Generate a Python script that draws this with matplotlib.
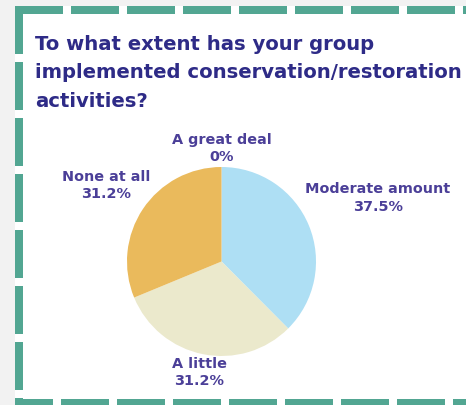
import numpy as np
import matplotlib.pyplot as plt
from matplotlib.patches import Rectangle

W, H = 466, 406

# answers, in drawing order (clockwise from 12 o'clock)
categories = ['Moderate amount', 'A little', 'None at all', 'A great deal']
shares = [37.5, 31.2, 31.2, 0.0]
pct_labels = ['37.5%', '31.2%', '31.2%', '0%']
colors = ['#aedff4', '#ebe9cc', '#eaba5c', '#2e2b87']

title_lines = ['To what extent has your group',
               'implemented conservation/restoration',
               'activities?']

# how far each label block sits from the centre, in pie radii
label_dist = [1.79, 1.19, 1.47, 1.21]

TEAL = '#52a692'
TITLE_COL = '#2e2b87'
LABEL_COL = '#4b3f98'

fig = plt.figure(figsize=(W / 100, H / 100), dpi=100)
fig.patch.set_facecolor('#f2f2f2')
ax = fig.add_axes([0, 0, 1, 1])
ax.set_xlim(0, W)
ax.set_ylim(0, H)
ax.axis('off')


def box(x0, y0, x1, y1, color):
    # x/y given from the top-left corner, like screen pixels
    ax.add_patch(Rectangle((x0, H - y1), x1 - x0, y1 - y0, color=color, lw=0, zorder=1))


# white card with a dashed teal border
box(15, 7, W + 5, H + 5, 'white')
for x in range(15, W, 56):
    box(x, 7, min(x + 48, W), 15, TEAL)
for y in range(7, H, 56):
    box(15, y, 23, min(y + 48, H), TEAL)
for x in range(5, W, 56):
    box(max(x, 15), 400, min(x + 48, W), H, TEAL)

for i, line in enumerate(title_lines):
    ax.text(35, H - 50 - 28.5 * i, line, fontsize=14.1, fontweight='bold',
            color=TITLE_COL, ha='left', va='baseline', zorder=3)

cx, cy, R = 221.5, H - 262.5, 94.5
wedges, _ = ax.pie(shares, colors=colors, startangle=90, counterclock=False,
                   center=(cx, cy), radius=R, wedgeprops=dict(lw=0),
                   frame=True)
ax.set_xlim(0, W)
ax.set_ylim(0, H)
ax.set_aspect('equal')
ax.axis('off')

total = sum(shares)
start = 90.0
for name, val, pct, d in zip(categories, shares, pct_labels, label_dist):
    sweep = 360.0 * val / total
    mid = np.deg2rad(start - sweep / 2)
    start -= sweep
    ax.text(cx + d * R * np.cos(mid), cy + d * R * np.sin(mid), name + '\n' + pct,
            fontsize=10.4, fontweight='bold', color=LABEL_COL,
            ha='center', va='center', multialignment='center',
            linespacing=1.3, zorder=3)

fig.savefig('out.png', dpi=100, facecolor=fig.get_facecolor())
